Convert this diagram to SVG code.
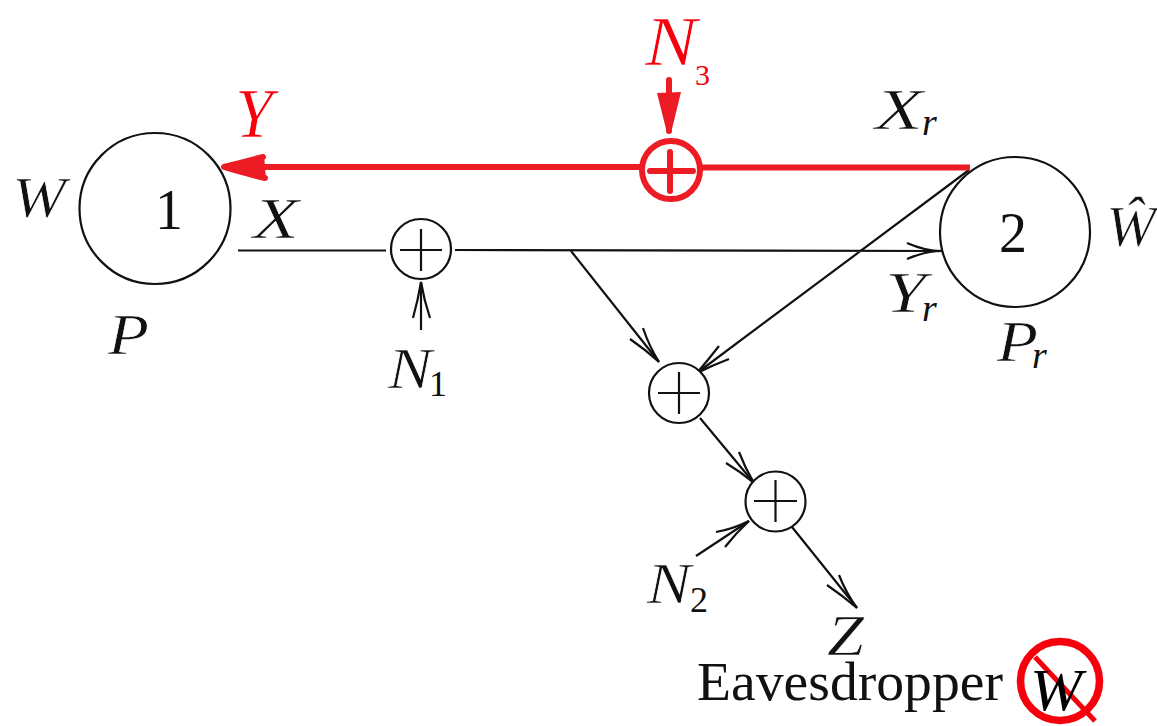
<svg xmlns="http://www.w3.org/2000/svg" width="1157" height="726" viewBox="0 0 1157 726">
<style>
.c{fill:#fff;stroke:#111;stroke-width:2.2}
.l{fill:none;stroke:#111;stroke-width:2.2}
.r{fill:none;stroke:#ed1c24;stroke-width:6}
.rr{fill:none;stroke:#ed1c24;stroke-width:6;stroke-linecap:round;stroke-linejoin:round}
text{font-family:"Liberation Serif",serif;fill:#111}
.i{font-style:italic;font-size:58px;stroke:#fff;stroke-width:.7}
.n{font-size:56px}
.sb{font-size:36px}
.ri{font-style:italic;font-size:38px}
</style>
<rect width="1157" height="726" fill="#fff"/>
<g id="connectors">
<path class="l" d="M238 250.500H386M455 250L942 251M571 251L659 362M969 170L697 373M700 418L754 483M792 527L857 608M696 556L749 521M421 330V282"/>
<path class="l" d="M907 243Q925 251 942 251Q925 251 907 259"/>
<path class="l" d="M643 328Q649 346 659 362Q646 350 630 339"/>
<path class="l" d="M719 346Q708 360 697 373Q713 365 729 359"/>
<path class="l" d="M739 452Q745 468 754 483Q741 472 726 463"/>
<path class="l" d="M716 532Q733 529 749 521Q736 533 725 547"/>
<path class="l" d="M839 575Q846 593 857 608Q843 596 827 585"/>
<path class="l" d="M413 318Q418 300 421 282Q424 300 430 318"/>
<path class="r" d="M970 167.500H702M640 167H226"/>
<path d="M222 167L264 155L266 180Z" fill="#ed1c24"/>
<path class="rr" d="M263 157Q240 163 224 167Q240 172 265 178"/>
<path class="rr" d="M669 80V131"/>
<path d="M657 93L681 92L671 133H667Z" fill="#ed1c24"/>
</g>
<g id="node1"><circle class="c" cx="155" cy="208.500" r="75.500"/><text x="155" y="229" class="n">1</text></g>
<g id="node2"><circle class="c" cx="1015" cy="232" r="75"/><text x="999" y="252" class="n">2</text></g>
<g id="sum1"><circle class="c" cx="421" cy="249" r="30"/><path class="l" d="M421 229V271M400 250H442"/></g>
<g id="sum2"><circle class="c" cx="679" cy="393" r="30"/><path class="l" d="M679 372V414M658 393H700"/></g>
<g id="sum3"><circle class="c" cx="775.500" cy="501.500" r="30"/><path class="l" d="M775.500 480V522M754 501H797"/></g>
<g id="sum4"><circle cx="671" cy="170" r="29" fill="#fff" stroke="#ed1c24" stroke-width="6"/><path class="rr" d="M670 152V191M650 171H693"/></g>
<g id="labels">
<text x="12" y="217" class="i" textLength="54" lengthAdjust="spacingAndGlyphs">W</text>
<text x="253" y="238" class="i" textLength="46" lengthAdjust="spacingAndGlyphs">X</text>
<text x="108" y="354" class="i" textLength="41" lengthAdjust="spacingAndGlyphs">P</text>
<text x="235" y="137" class="i" style="font-size:70px;fill:#f5000c" textLength="38" lengthAdjust="spacingAndGlyphs">Y</text>
<text x="645" y="65" class="i" style="font-size:70px;fill:#f5000c" textLength="52" lengthAdjust="spacingAndGlyphs">N</text>
<text x="695" y="85" style="font-size:30px;fill:#f5000c">3</text>
<text x="875" y="129" class="i" textLength="48" lengthAdjust="spacingAndGlyphs">X</text><text x="922" y="135" class="ri">r</text>
<text x="885" y="312" class="i" textLength="41" lengthAdjust="spacingAndGlyphs">Y</text><text x="922" y="321" class="ri">r</text>
<text x="997" y="361" class="i" textLength="41" lengthAdjust="spacingAndGlyphs">P</text><text x="1032" y="368" class="ri">r</text>
<text x="1106" y="246" class="i" textLength="50" lengthAdjust="spacingAndGlyphs">Ŵ</text>
<text x="388" y="388" class="i" textLength="44" lengthAdjust="spacingAndGlyphs">N</text><text x="429" y="396" class="sb">1</text>
<text x="647" y="603" class="i" textLength="44" lengthAdjust="spacingAndGlyphs">N</text><text x="690" y="612" class="sb">2</text>
<text x="827" y="655" class="i" textLength="37" lengthAdjust="spacingAndGlyphs">Z</text>
<text x="697" y="700" style="font-size:55px" textLength="306" lengthAdjust="spacingAndGlyphs">Eavesdropper</text>
</g>
<g id="no"><circle cx="1060" cy="681" r="39.500" fill="none" stroke="#f5000c" stroke-width="7.500"/><path d="M1035 657L1095 721" stroke="#f5000c" stroke-width="5" fill="none"/><text x="1030" y="710" style="font-style:italic;font-size:60px;fill:#000" textLength="52" lengthAdjust="spacingAndGlyphs">W</text></g>
</svg>
